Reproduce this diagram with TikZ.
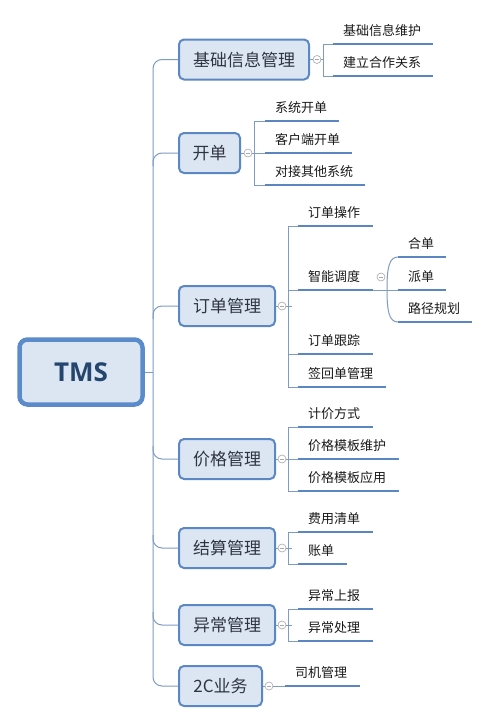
\documentclass[tikz,border=0pt]{standalone}
\usepackage{fontspec}
\setmainfont{Noto Sans CJK SC}
\newfontfamily\tmsfont{Open Sans}
\definecolor{boxblue}{HTML}{5B88C4}
\definecolor{tmsblue}{HTML}{5B8BCB}
\definecolor{boxfill}{HTML}{DCE6F2}
\definecolor{tmstext}{HTML}{24466E}
\definecolor{lonetext}{HTML}{2F3540}
\definecolor{leaftextc}{HTML}{1A1A1A}
\definecolor{ulinec}{HTML}{5A86C1}
\definecolor{trunkc}{HTML}{7E9BC4}
\definecolor{circgray}{HTML}{A8A8A8}
\tikzset{
  tmsbox/.style={draw=tmsblue, line width=4.5pt, fill=boxfill, rounded corners=8pt,
    minimum width=123pt, minimum height=65pt, inner sep=0pt,
    font=\tmsfont\bfseries\fontsize{26}{30}\selectfont, text=tmstext},
  lonebox/.style={draw=boxblue, line width=2pt, fill=boxfill, rounded corners=5pt,
    minimum height=40pt, inner sep=0pt,
    font=\fontsize{17}{20}\selectfont, text=lonetext},
  leaftext/.style={anchor=west, inner sep=0pt, font=\fontsize{13}{15}\selectfont, text=leaftextc},
  uline/.style={draw=ulinec, line width=2.8pt},
  trunk/.style={draw=trunkc, line width=1pt},
  brk/.style={draw=trunkc, line width=1pt},
  cbtn/.style={circle, draw=circgray, line width=0.6pt, fill=white, minimum size=8pt, inner sep=0pt,
    path picture={\draw[circgray, line width=0.6pt]
      ([xshift=-2.2pt]path picture bounding box.center) -- ([xshift=2.2pt]path picture bounding box.center);}}
}
\newcommand\mmleaf[5]{%
  \coordinate (#1) at (#2,#3);
  \draw[uline] (#1) -- ++(#4,0);
  \node[leaftext] (#1t) at ([xshift=10pt,yshift=13pt]#1) {#5};
}
\begin{document}
\begin{tikzpicture}[x=1pt,y=-1pt]
\fill[white] (0,0) rectangle (490,723);
\useasboundingbox (0,0) rectangle (490,723);

% root
\node[tmsbox] (tms) at (81,372) {TMS};
\coordinate (trunkmid) at (153,372);

% level 1
\node[lonebox, minimum width=130pt] (b1) at (244,59.5) {基础信息管理};
\node[lonebox, minimum width=61pt]  (b2) at (209.5,153) {开单};
\node[lonebox, minimum width=96pt]  (b3) at (227,306) {订单管理};
\node[lonebox, minimum width=96pt]  (b4) at (227,459) {价格管理};
\node[lonebox, minimum width=96pt]  (b5) at (227,548) {结算管理};
\node[lonebox, minimum width=96pt]  (b6) at (227,625) {异常管理};
\node[lonebox, minimum width=83pt]  (b7) at (220.5,686) {2C业务};

% trunk
\draw[trunk] (tms.east) -- (trunkmid);
\draw[trunk, rounded corners=9pt] (b1.west) -| (trunkmid) |- (b7.west);
\coordinate (j2) at (153,166);
\coordinate (j3) at (153,319);
\coordinate (j4) at (153,446);
\coordinate (j5) at (153,535);
\coordinate (j6) at (153,612);
\draw[trunk, rounded corners=9pt] (j2) |- (b2.west);
\draw[trunk, rounded corners=9pt] (j3) |- (b3.west);
\draw[trunk, rounded corners=9pt] (j4) |- (b4.west);
\draw[trunk, rounded corners=9pt] (j5) |- (b5.west);
\draw[trunk, rounded corners=9pt] (j6) |- (b6.west);

% collapse buttons
\node[cbtn] (c1) at (317,59.5) {};
\node[cbtn] (c2) at (248,153) {};
\node[cbtn] (c3) at (282,306) {};
\node[cbtn] (c4) at (282,459) {};
\node[cbtn] (c5) at (282,548) {};
\node[cbtn] (c6) at (282,625) {};
\node[cbtn] (c7) at (269,686) {};
\foreach \i in {1,...,7} {\draw[brk] (b\i.east) -- (c\i.west);}

% children of b1
\mmleaf{k11}{333}{44}{100}{基础信息维护}
\mmleaf{k12}{333}{76}{100}{建立合作关系}
\draw[brk] (k11) -- ++(-10,0) |- (k12);
\draw[brk] (c1.east) -- ++(2,0);

% children of b2
\mmleaf{k21}{265}{121}{74}{系统开单}
\mmleaf{k22}{265}{153}{87}{客户端开单}
\mmleaf{k23}{265}{185}{100}{对接其他系统}
\draw[brk] (k21) -- ++(-11,0) |- (k23);
\draw[brk] (c2.east) -- (k22);

% children of b3
\mmleaf{k31}{298}{226}{75}{订单操作}
\mmleaf{k32}{298}{290}{75}{智能调度}
\mmleaf{k33}{298}{354}{75}{订单跟踪}
\mmleaf{k34}{298}{387}{88}{签回单管理}
\draw[brk] (k31) -- ++(-10,0) |- (k34);
\draw[brk] (c3.east) -- ++(6,0);
\draw[brk] ([xshift=-10pt]k32) -- (k32);
\draw[brk] ([xshift=-10pt]k33) -- (k33);

% children of 智能调度
\node[cbtn] (c32) at (381,277) {};
\mmleaf{k321}{398}{257}{48}{合单}
\mmleaf{k322}{398}{290}{48}{派单}
\mmleaf{k323}{398}{322}{74}{路径规划}
\draw[brk] ([xshift=75pt]k32) -- (k322);
\draw[brk] (k321) .. controls (389,257) and (387,268) .. (387,289.5)
               .. controls (387,311) and (389,322) .. (k323);

% children of b4
\mmleaf{k41}{298}{427}{75}{计价方式}
\mmleaf{k42}{298}{459}{101}{价格模板维护}
\mmleaf{k43}{298}{491}{101}{价格模板应用}
\draw[brk] (k41) -- ++(-10,0) |- (k43);
\draw[brk] (c4.east) -- (k42);

% children of b5
\mmleaf{k51}{298}{532}{75}{费用清单}
\mmleaf{k52}{298}{564}{49}{账单}
\draw[brk] (k51) -- ++(-10,0) |- (k52);
\draw[brk] (c5.east) -- ++(6,0);

% children of b6
\mmleaf{k61}{298}{609}{75}{异常上报}
\mmleaf{k62}{298}{641}{75}{异常处理}
\draw[brk] (k61) -- ++(-10,0) |- (k62);
\draw[brk] (c6.east) -- ++(6,0);

% child of b7
\mmleaf{k71}{285}{686}{75}{司机管理}
\draw[brk] (c7.east) -- (k71);
\end{tikzpicture}
\end{document}
